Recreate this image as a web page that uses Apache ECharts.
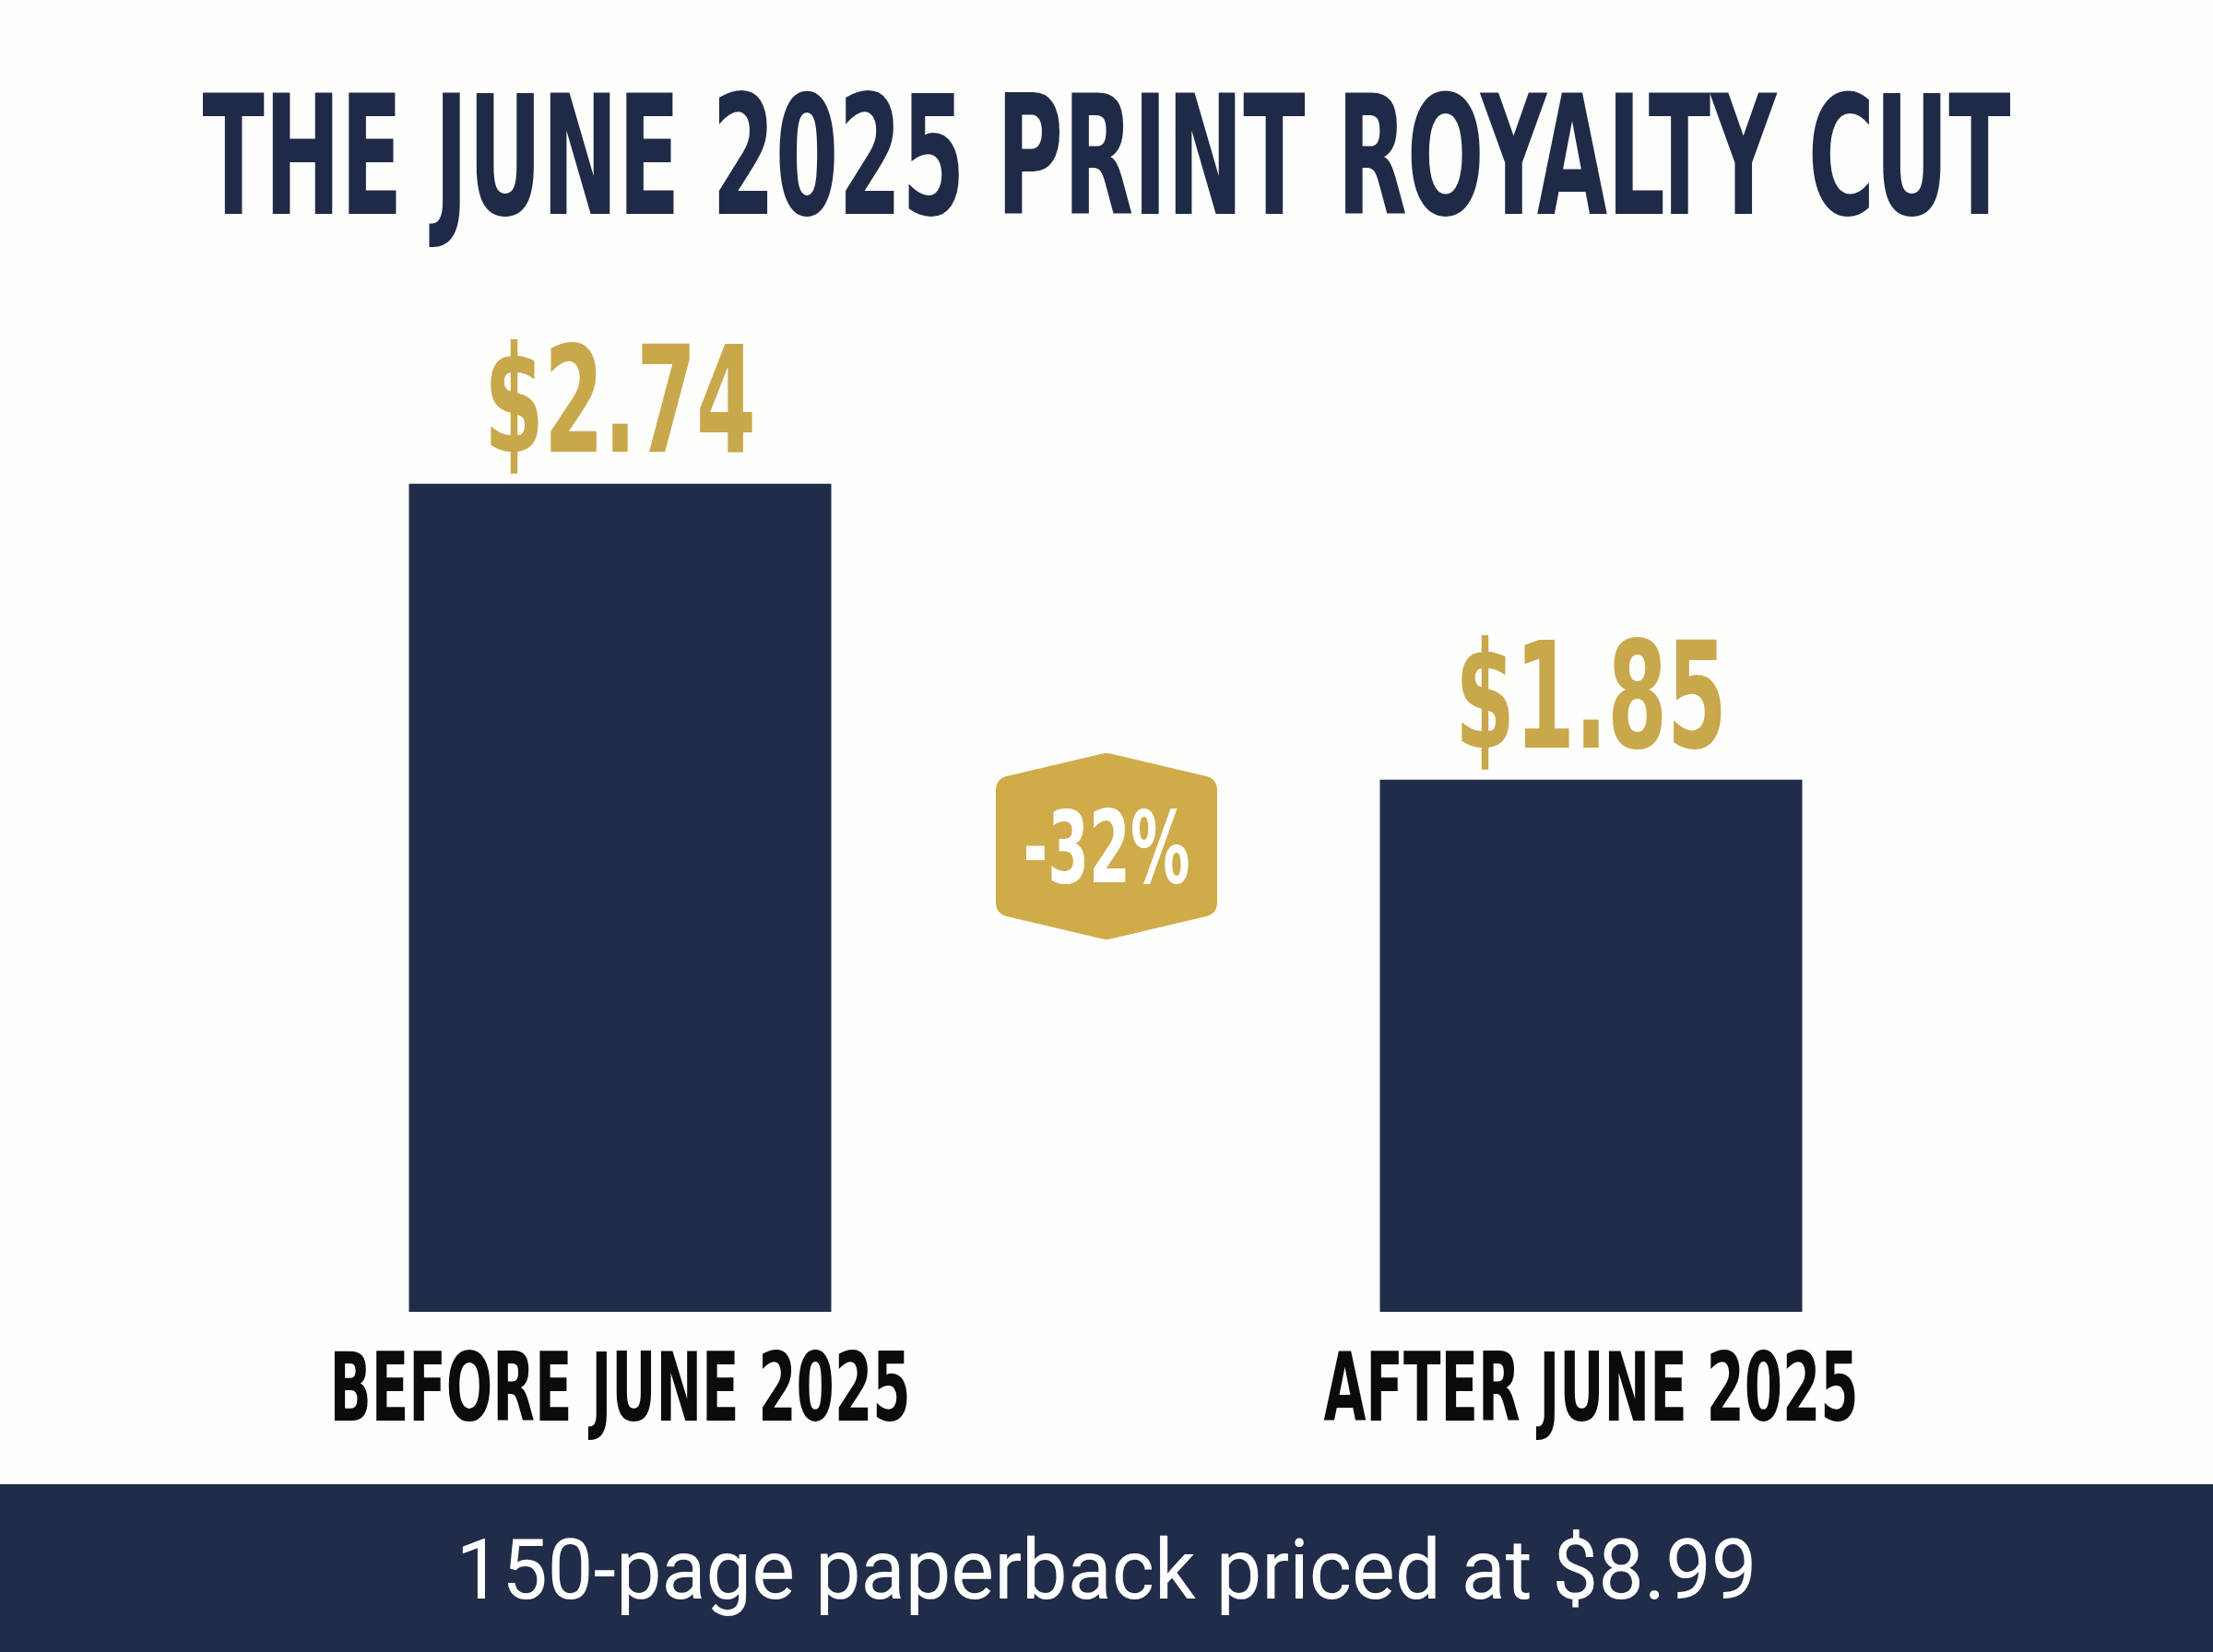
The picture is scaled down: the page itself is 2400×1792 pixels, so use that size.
<!DOCTYPE html>
<html>
<head>
<meta charset="utf-8">
<script src="https://cdn.jsdelivr.net/npm/echarts@6/dist/echarts.min.js"></script>
<style>
  html, body { margin: 0; padding: 0; background: #fefefc; }
  #chart { width: 2400px; height: 1792px; }
</style>
</head>
<body>
<div id="chart"></div>
<script>
// data
let categories = ['BEFORE JUNE 2025', 'AFTER JUNE 2025'];
let royalties = [2.74, 1.85];
let titleText = 'THE JUNE 2025 PRINT ROYALTY CUT';
let footerText = '150-page paperback priced at $8.99';

let navy = '#212c48';
let gold = '#c9a74b';
let condensed = '"Liberation Sans Narrow", "DejaVu Sans Condensed", sans-serif';
let yMin = 0.25;

// squeeze a string to a given width (the reference uses a very condensed face)
let ctx = document.createElement('canvas').getContext('2d');
let fitScale = (text, font, width) => {
    ctx.font = font;
    return width / ctx.measureText(text).width;
};

let change = Math.round((royalties[1] - royalties[0]) / royalties[0] * 100);
let badgeText = (change > 0 ? '+' : '') + change + '%';

let titleFont = 'bold 180px ' + condensed;
let valueFont = 'bold 160px ' + condensed;
let catFont = 'bold 104px ' + condensed;
let badgeFont = 'bold 108px ' + condensed;
let footerFont = '400 90px Roboto';

let valueScale = fitScale('$2.74', valueFont, 295);
let catScale = fitScale(categories[0], catFont, 630);

// hexagon badge, inset so a thick round-joined stroke rounds the corners
let bx = 1200, by = 918;
let badgePoints = [[0, -87], [106, -62], [106, 62], [0, 87], [-106, 62], [-106, -62]];

let condensedText = (text, font, scale, x, y, fill) => ({
    type: 'text',
    x: x,
    y: y,
    scaleX: scale,
    style: { text: text, font: font, fill: fill, align: 'center', verticalAlign: 'middle' }
});

let option = {
    backgroundColor: '#fefefc',
    animation: false,
    grid: { left: 146, right: 148, top: 431, bottom: 369 },
    xAxis: {
        type: 'category',
        data: categories,
        axisLine: { show: false },
        axisTick: { show: false },
        axisLabel: { show: false }
    },
    yAxis: {
        type: 'value',
        min: yMin,
        max: 3,
        show: false,
        splitLine: { show: false }
    },
    series: [
        {
            type: 'bar',
            data: royalties,
            barWidth: 458,
            itemStyle: { color: navy }
        }
    ]
};

let myChart = echarts.init(document.getElementById('chart'));
myChart.setOption(option);

// labels placed from the chart's own scales
let labels = [];
royalties.forEach((v, i) => {
    let top = myChart.convertToPixel({ seriesIndex: 0 }, [i, v]);
    let base = myChart.convertToPixel({ seriesIndex: 0 }, [i, yMin]);
    labels.push(condensedText('$' + v.toFixed(2), valueFont, valueScale, top[0], top[1] - 76, gold));
    labels.push(condensedText(categories[i], catFont, catScale, base[0], base[1] + 91, '#0b0b0b'));
});

myChart.setOption({
    graphic: labels.concat([
        condensedText(titleText, titleFont, fitScale(titleText, titleFont, 1961), 1200, 185, '#1f2a47'),
        {
            type: 'polygon',
            x: bx,
            y: by,
            shape: { points: badgePoints },
            style: { fill: '#cfab4a', stroke: '#cfab4a', lineWidth: 28, lineJoin: 'round' }
        },
        condensedText(badgeText, badgeFont, fitScale(badgeText, badgeFont, 181), bx, 929, '#ffffff'),
        {
            type: 'rect',
            x: 0,
            y: 1610,
            shape: { width: 2400, height: 182 },
            style: { fill: navy }
        },
        condensedText(footerText, footerFont, fitScale(footerText, footerFont, 1411), 1200, 1711, '#ffffff')
    ])
});
</script>
</body>
</html>
